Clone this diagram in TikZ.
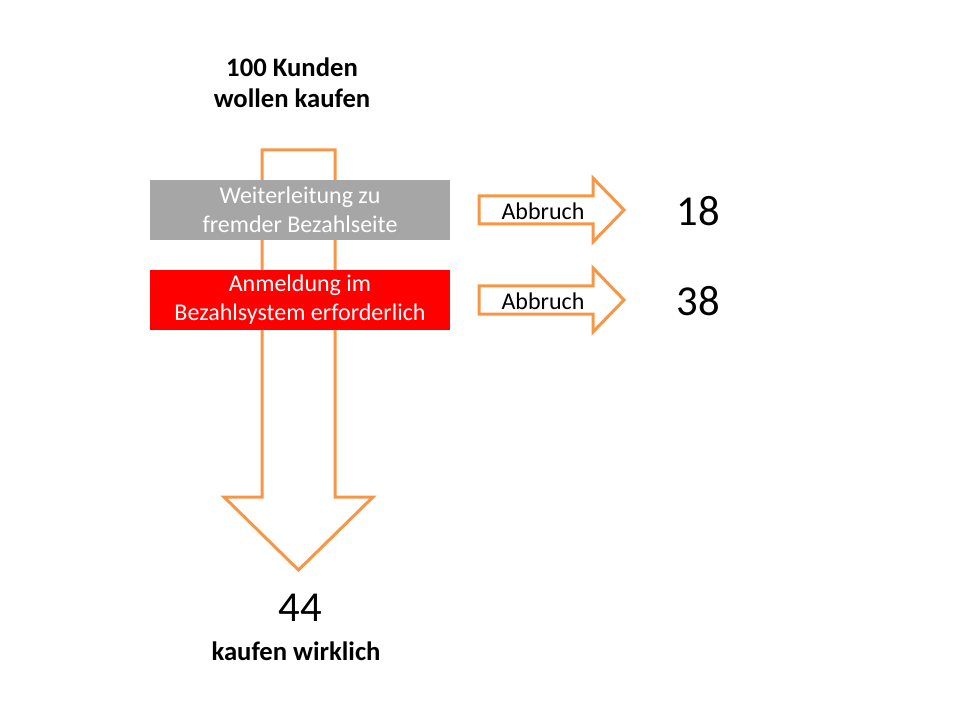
\documentclass[tikz,border=0pt]{standalone}
\usepackage{fontspec}
\setmainfont{Carlito}
\usetikzlibrary{positioning}
\definecolor{flow}{HTML}{F79646}
\definecolor{stepgray}{HTML}{A6A6A6}

\begin{document}
\begin{tikzpicture}[x=0.75pt,y=-0.75pt,
    blockarrow/.style={draw=flow,line width=2.25pt,fill=white,line join=miter},
    stage/.style={minimum width=225pt,minimum height=45pt,inner sep=0pt,
      text=white,align=center,font=\fontsize{18}{21.75}\selectfont},
    label/.style={font=\fontsize{18}{21.75}\selectfont},
    count/.style={font=\fontsize{32}{38}\selectfont},
    caption/.style={font=\bfseries\fontsize{20}{23.25}\selectfont,align=center}]
  \useasboundingbox (0,0) rectangle (960,720);
  % main flow
  \draw[blockarrow] (262,150) -- (335,150) -- (335,497) -- (373,497)
    -- (298.5,570) -- (224,497) -- (262,497) -- cycle;
  \node[stage,fill=stepgray] (redirect) at (300,210) {Weiterleitung zu\\fremder Bezahlseite};
  \node[stage,fill=red] (login) at (300,300) {Anmeldung im\\Bezahlsystem erforderlich};
  \node[caption] (start) at (292,83) {100 Kunden\\wollen kaufen};
  \node[count] (rest) at (300,608) {44};
  \node[caption] (buyers) at (296,651) {kaufen wirklich};
  % drop-outs
  \foreach \y/\n/\name in {210/18/first, 300/38/second} {
    \draw[blockarrow] (479,\y-14) -- (593,\y-14) -- (593,\y-32) -- (624,\y)
      -- (593,\y+32) -- (593,\y+14) -- (479,\y+14) -- cycle;
    \node[label] (abort-\name) at (543,\y+1) {Abbruch};
    \node[count] (lost-\name) at (698,\y+1) {\n};
  }
\end{tikzpicture}
\end{document}
